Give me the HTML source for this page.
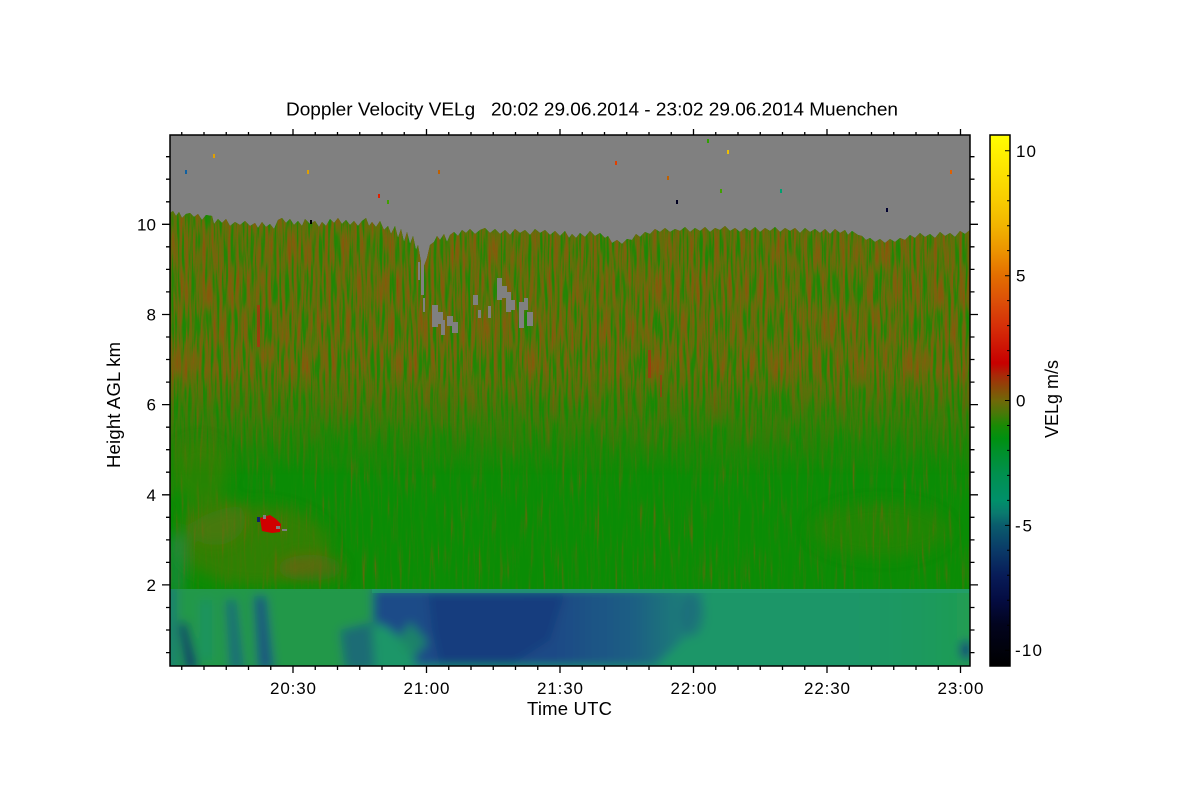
<!DOCTYPE html>
<html><head><meta charset="utf-8"><style>
html,body{margin:0;padding:0;background:#fff;}
svg{display:block;}
text{font-family:"Liberation Sans",Arial,sans-serif;fill:#000;}
</style></head><body>
<svg xmlns="http://www.w3.org/2000/svg" width="1200" height="800" viewBox="0 0 1200 800">
<defs>
<clipPath id="pc"><rect x="170" y="135" width="800" height="531"/></clipPath>
<clipPath id="bc"><rect x="170" y="589" width="800" height="77"/></clipPath>
<linearGradient id="cg" gradientUnits="userSpaceOnUse" x1="0" y1="135" x2="0" y2="666">
<stop offset="0" stop-color="#ffff00"/>
<stop offset="0.030" stop-color="#fff200"/>
<stop offset="0.124" stop-color="#f8cc00"/>
<stop offset="0.171" stop-color="#f2b400"/>
<stop offset="0.218" stop-color="#ec9400"/>
<stop offset="0.265" stop-color="#e46e00"/>
<stop offset="0.312" stop-color="#dc5008"/>
<stop offset="0.359" stop-color="#d63008"/>
<stop offset="0.406" stop-color="#cc1004"/>
<stop offset="0.430" stop-color="#c80000"/>
<stop offset="0.453" stop-color="#a82a08"/>
<stop offset="0.477" stop-color="#8a4a08"/>
<stop offset="0.500" stop-color="#706808"/>
<stop offset="0.523" stop-color="#4a7808"/>
<stop offset="0.547" stop-color="#1a8a04"/>
<stop offset="0.571" stop-color="#009010"/>
<stop offset="0.594" stop-color="#009028"/>
<stop offset="0.641" stop-color="#009050"/>
<stop offset="0.688" stop-color="#00906a"/>
<stop offset="0.712" stop-color="#0a7a6e"/>
<stop offset="0.735" stop-color="#0a5c6c"/>
<stop offset="0.782" stop-color="#0a3a68"/>
<stop offset="0.829" stop-color="#081c58"/>
<stop offset="0.876" stop-color="#040c42"/>
<stop offset="0.923" stop-color="#02041e"/>
<stop offset="1" stop-color="#000000"/>
</linearGradient>
<linearGradient id="baseG" gradientUnits="userSpaceOnUse" x1="0" y1="210" x2="0" y2="590">
<stop offset="0" stop-color="#66700e"/>
<stop offset="0.4" stop-color="#5c760c"/>
<stop offset="0.62" stop-color="#2e860a"/>
<stop offset="1" stop-color="#20880a"/>
</linearGradient>
<linearGradient id="fade" gradientUnits="userSpaceOnUse" x1="0" y1="135" x2="0" y2="666">
<stop offset="0.44" stop-color="#fff"/>
<stop offset="0.64" stop-color="#000"/>
</linearGradient>
<linearGradient id="blueG" gradientUnits="userSpaceOnUse" x1="373" y1="0" x2="705" y2="0">
<stop offset="0" stop-color="#1e4c88"/>
<stop offset="0.55" stop-color="#1c4a86"/>
<stop offset="0.78" stop-color="#1a5e84"/>
<stop offset="1" stop-color="#1a8a72"/>
</linearGradient>
<linearGradient id="rgG" gradientUnits="userSpaceOnUse" x1="820" y1="0" x2="970" y2="0">
<stop offset="0" stop-color="#1c9668" stop-opacity="0"/>
<stop offset="1" stop-color="#22a048" stop-opacity="0.7"/>
</linearGradient>
<mask id="mo" maskUnits="userSpaceOnUse" x="170" y="135" width="800" height="531"><rect x="170" y="135" width="800" height="531" fill="url(#fade)"/></mask>
<filter id="tg" filterUnits="userSpaceOnUse" x="170" y="135" width="800" height="531" color-interpolation-filters="sRGB">
<feTurbulence type="fractalNoise" baseFrequency="0.32 0.022" numOctaves="2" seed="7"/>
<feColorMatrix type="matrix" values="1 0 0 0 0 1 0 0 0 0 1 0 0 0 0 0 0 0 0 1"/>
<feComponentTransfer>
<feFuncR type="table" tableValues="0.04 0.04 0.04 0.05 0.12 0.32 0.45"/>
<feFuncG type="table" tableValues="0.55 0.55 0.55 0.55 0.52 0.44 0.38"/>
<feFuncB type="table" tableValues="0.02 0.02 0.02 0.02 0.03 0.04 0.04"/>
</feComponentTransfer>
<feComposite in2="SourceGraphic" operator="in"/>
</filter>
<filter id="to" filterUnits="userSpaceOnUse" x="170" y="135" width="800" height="531" color-interpolation-filters="sRGB">
<feTurbulence type="fractalNoise" baseFrequency="0.35 0.026" numOctaves="2" seed="41"/>
<feColorMatrix type="matrix" values="1 0 0 0 0 1 0 0 0 0 1 0 0 0 0 0 0 0 0 1"/>
<feComponentTransfer>
<feFuncR type="table" tableValues="0.1 0.1 0.16 0.38 0.49 0.55 0.62"/>
<feFuncG type="table" tableValues="0.54 0.54 0.52 0.44 0.38 0.33 0.24"/>
<feFuncB type="table" tableValues="0.02 0.02 0.02 0.04 0.05 0.04 0.02"/>
</feComponentTransfer>
<feComposite in2="SourceGraphic" operator="in"/>
</filter>
<filter id="bl" x="-20%" y="-20%" width="140%" height="140%"><feGaussianBlur stdDeviation="5"/></filter>
<filter id="bl5" x="-30%" y="-30%" width="160%" height="160%"><feGaussianBlur stdDeviation="7"/></filter>
</defs>

<rect x="0" y="0" width="1200" height="800" fill="#fff"/>

<!-- plot area -->
<g clip-path="url(#pc)">
<rect x="170" y="135" width="800" height="531" fill="#808080"/>
<path id="cloud" d="M170,213 L173,211 L176,216 L179,212 L182,218 L186,214 L190,213 L194,217 L198,214 L202,220 L206,215 L212,216 L214,224 L218,219 L222,223 L226,219 L230,226 L235,222 L240,225 L245,221 L250,226 L255,223 L258,228 L262,222 L266,227 L270,224 L274,229 L278,220 L282,218 L286,223 L290,219 L294,225 L298,221 L302,226 L305,219 L310,224 L315,221 L319,227 L322,222 L326,226 L330,219 L334,223 L338,218 L342,224 L346,220 L350,225 L354,221 L358,226 L362,221 L366,218 L369,226 L372,222 L376,227 L380,221 L384,230 L388,226 L391,234 L395,226 L398,238 L401,229 L404,242 L407,232 L410,244 L413,236 L416,250 L418,245 L421,262 L424,266 L427,258 L430,245 L434,242 L437,236 L440,240 L444,234 L447,242 L450,235 L454,232 L458,236 L462,230 L466,233 L470,229 L475,234 L480,230 L485,228 L490,233 L495,229 L500,234 L505,230 L510,235 L515,229 L520,233 L525,230 L530,235 L535,229 L540,233 L545,230 L550,235 L555,231 L560,236 L565,231 L569,238 L572,234 L576,238 L580,233 L585,237 L590,231 L595,236 L600,233 L605,238 L608,236 L612,243 L617,240 L622,244 L627,239 L632,240 L636,234 L640,237 L645,232 L650,234 L655,229 L660,232 L665,228 L670,232 L675,229 L680,231 L685,227 L690,232 L695,228 L700,231 L705,227 L710,232 L715,228 L720,230 L725,226 L730,231 L735,228 L740,232 L745,228 L750,231 L755,227 L760,232 L765,228 L770,231 L775,227 L780,232 L785,228 L790,231 L795,228 L800,233 L805,228 L810,232 L815,229 L820,233 L825,229 L830,234 L835,229 L840,233 L845,230 L848,235 L852,231 L858,235 L862,236 L866,240 L870,238 L875,242 L880,239 L885,243 L890,239 L895,242 L900,238 L905,240 L910,235 L915,238 L920,233 L925,237 L930,234 L935,238 L940,232 L945,236 L950,233 L955,237 L960,231 L965,234 L970,230 L970,666 L170,666 Z" fill="url(#baseG)"/>
<use href="#cloud" fill="#000" filter="url(#tg)"/>
<g mask="url(#mo)"><use href="#cloud" fill="#000" filter="url(#to)"/></g>

<!-- brownish patches -->
<g filter="url(#bl5)">
<ellipse cx="255" cy="545" rx="75" ry="40" fill="#6a6e0c" opacity="0.4"/>
<ellipse cx="310" cy="568" rx="32" ry="13" fill="#8a5612" opacity="0.5"/>
<ellipse cx="215" cy="520" rx="30" ry="25" fill="#7a6a10" opacity="0.3"/>
<ellipse cx="880" cy="530" rx="70" ry="28" fill="#6a6e0c" opacity="0.22"/>
<ellipse cx="200" cy="470" rx="30" ry="30" fill="#6a700c" opacity="0.3"/>
<rect x="170" y="535" width="12" height="60" fill="#1a8a70" opacity="0.6"/>
</g>

<!-- red streaks -->
<rect x="257" y="305" width="3" height="42" fill="#b82810" opacity="0.7"/>
<rect x="648" y="350" width="3" height="28" fill="#a83010" opacity="0.7"/>
<rect x="660" y="375" width="2" height="22" fill="#a83010" opacity="0.6"/>

<!-- red spot -->
<polygon points="260,518 270,515 276,519 281,524 280,532 272,533 262,531" fill="#d00000"/>
<rect x="257" y="517" width="3" height="5" fill="#10206a"/>
<rect x="263" y="515" width="3" height="4" fill="#808080"/>
<rect x="276" y="526" width="4" height="3" fill="#808080"/>
<rect x="282" y="529" width="5" height="2" fill="#808080"/>

<!-- gray pockets -->
<g fill="#808080">
<rect x="421" y="255" width="3" height="40"/>
<rect x="423" y="298" width="2" height="14"/>
<rect x="418" y="262" width="2" height="18"/>
<rect x="432" y="305" width="6" height="22"/>
<rect x="438" y="312" width="5" height="12"/>
<rect x="441" y="320" width="4" height="15"/>
<rect x="447" y="316" width="6" height="10"/>
<rect x="452" y="322" width="6" height="11"/>
<rect x="473" y="295" width="5" height="10"/>
<rect x="478" y="310" width="3" height="8"/>
<rect x="488" y="306" width="3" height="12"/>
<rect x="497" y="278" width="5" height="22"/>
<rect x="502" y="286" width="5" height="12"/>
<rect x="506" y="292" width="5" height="20"/>
<rect x="511" y="300" width="4" height="10"/>
<rect x="519" y="302" width="5" height="26"/>
<rect x="524" y="298" width="4" height="12"/>
<rect x="527" y="312" width="6" height="14"/>
</g>

<!-- scattered dots -->
<rect x="185" y="170" width="2" height="4" fill="#1060a0"/>
<rect x="213" y="154" width="2" height="4" fill="#e0a000"/>
<rect x="307" y="170" width="2" height="4" fill="#e0a000"/>
<rect x="378" y="194" width="2" height="4" fill="#e02000"/>
<rect x="387" y="200" width="2" height="4" fill="#40a000"/>
<rect x="438" y="170" width="2" height="4" fill="#c06000"/>
<rect x="310" y="220" width="2" height="4" fill="#000"/>
<rect x="615" y="161" width="2" height="4" fill="#e04000"/>
<rect x="667" y="176" width="2" height="4" fill="#c06000"/>
<rect x="676" y="200" width="2" height="4" fill="#000020"/>
<rect x="707" y="139" width="2" height="4" fill="#30a000"/>
<rect x="727" y="150" width="2" height="4" fill="#f0c000"/>
<rect x="720" y="189" width="2" height="4" fill="#40a000"/>
<rect x="780" y="189" width="2" height="4" fill="#00a070"/>
<rect x="886" y="208" width="2" height="4" fill="#000030"/>
<rect x="950" y="170" width="2" height="4" fill="#e06000"/>
</g>

<!-- bottom layer -->
<g clip-path="url(#bc)"><g filter="url(#bl)">
<rect x="150" y="580" width="840" height="100" fill="#1c9668"/>
<rect x="150" y="580" width="224" height="100" fill="#21984a"/>
<polygon points="373,589 705,589 702,612 688,635 655,666 416,666 408,645 388,628 373,622" fill="url(#blueG)"/>
<polygon points="428,594 565,594 550,640 510,666 440,666 432,630" fill="#16397a" opacity="0.7"/>
<polygon points="396,642 410,622 428,642 412,660" fill="#1a9062" opacity="0.8"/>
<ellipse cx="692" cy="615" rx="12" ry="22" fill="#1a6080" opacity="0.5"/>
<rect x="820" y="585" width="160" height="90" fill="url(#rgG)"/>
<ellipse cx="966" cy="650" rx="6" ry="10" fill="#123a7a"/>
<polygon points="179,624 186,622 198,670 186,670" fill="#0c2a6c"/>
<polygon points="226,600 236,600 244,670 230,670" fill="#1c5a8a" opacity="0.7"/>
<polygon points="254,596 266,596 274,670 258,670" fill="#1a4a88" opacity="0.85"/>
<polygon points="340,630 372,622 375,670 345,670" fill="#1a5a88" opacity="0.7"/>
<rect x="165" y="585" width="12" height="90" fill="#1a8070"/>
<rect x="200" y="600" width="12" height="60" fill="#1a9070" opacity="0.6"/>
</g></g>
<rect x="372" y="589" width="598" height="4" fill="#22a070" opacity="0.7"/>

<!-- frame -->
<rect x="170" y="135" width="800" height="531" fill="none" stroke="#000" stroke-width="1.5"/>

<!-- ticks -->
<path stroke="#000" stroke-width="1.3" fill="none" d="
M181.75,666V670 M204,666V670 M226.25,666V670 M248.5,666V670 M270.75,666V670 M293,666V673 M315.25,666V670 M337.5,666V670 M359.75,666V670 M382,666V670 M404.25,666V670 M426.5,666V673 M448.75,666V670 M471,666V670 M493.25,666V670 M515.5,666V670 M537.75,666V670 M560,666V673 M582.25,666V670 M604.5,666V670 M626.75,666V670 M649,666V670 M671.25,666V670 M693.5,666V673 M715.75,666V670 M738,666V670 M760.25,666V670 M782.5,666V670 M804.75,666V670 M827,666V673 M849.25,666V670 M871.5,666V670 M893.75,666V670 M916,666V670 M938.25,666V670 M960.5,666V673
M181.75,135V132 M204,135V132 M226.25,135V132 M248.5,135V132 M270.75,135V132 M293,135V129 M315.25,135V132 M337.5,135V132 M359.75,135V132 M382,135V132 M404.25,135V132 M426.5,135V129 M448.75,135V132 M471,135V132 M493.25,135V132 M515.5,135V132 M537.75,135V132 M560,135V129 M582.25,135V132 M604.5,135V132 M626.75,135V132 M649,135V132 M671.25,135V132 M693.5,135V129 M715.75,135V132 M738,135V132 M760.25,135V132 M782.5,135V132 M804.75,135V132 M827,135V129 M849.25,135V132 M871.5,135V132 M893.75,135V132 M916,135V132 M938.25,135V132 M960.5,135V129
M170,652.6H166 M170,630H166 M170,607.5H166 M170,584.9H162 M170,562.4H166 M170,539.9H166 M170,517.3H166 M170,494.8H162 M170,472.2H166 M170,449.7H166 M170,427.2H166 M170,404.6H162 M170,382.1H166 M170,359.5H166 M170,337H166 M170,314.5H162 M170,291.9H166 M170,269.4H166 M170,246.8H166 M170,224.3H162 M170,201.8H166 M170,179.2H166 M170,156.7H166
M970,652.6H974.5 M970,630H974.5 M970,607.5H974.5 M970,584.9H978 M970,562.4H974.5 M970,539.9H974.5 M970,517.3H974.5 M970,494.8H978 M970,472.2H974.5 M970,449.7H974.5 M970,427.2H974.5 M970,404.6H978 M970,382.1H974.5 M970,359.5H974.5 M970,337H974.5 M970,314.5H978 M970,291.9H974.5 M970,269.4H974.5 M970,246.8H974.5 M970,224.3H978 M970,201.8H974.5 M970,179.2H974.5 M970,156.7H974.5
"/>

<!-- title -->
<text x="286" y="115.5" font-size="18.5" textLength="612" lengthAdjust="spacingAndGlyphs" style="white-space:pre">Doppler Velocity VELg   20:02 29.06.2014 - 23:02 29.06.2014 Muenchen</text>

<!-- x labels -->
<g font-size="17" text-anchor="middle">
<text x="293" y="694" textLength="46">20:30</text>
<text x="426.5" y="694" textLength="46">21:00</text>
<text x="560" y="694" textLength="46">21:30</text>
<text x="693.5" y="694" textLength="46">22:00</text>
<text x="827" y="694" textLength="46">22:30</text>
<text x="960.5" y="694" textLength="46">23:00</text>
</g>
<text x="569.5" y="715" font-size="18.5" text-anchor="middle" textLength="85">Time UTC</text>

<!-- y labels -->
<g font-size="17" text-anchor="end">
<text x="156" y="590.9">2</text>
<text x="156" y="500.8">4</text>
<text x="156" y="410.6">6</text>
<text x="156" y="320.5">8</text>
<text x="156" y="230.3" textLength="19">10</text>
</g>
<text transform="translate(120,405) rotate(-90)" font-size="18.5" text-anchor="middle" textLength="126">Height AGL km</text>

<!-- colorbar -->
<rect x="990" y="135" width="20" height="531" fill="url(#cg)"/>
<path stroke="#000" stroke-width="1" fill="none" d="
M1010,150.8H1005 M1010,175.8H1007 M1010,200.7H1007 M1010,225.7H1007 M1010,250.6H1007 M1010,275.7H1005 M1010,300.6H1007 M1010,325.6H1007 M1010,350.6H1007 M1010,375.5H1007 M1010,400.5H1005 M1010,425.5H1007 M1010,450.4H1007 M1010,475.4H1007 M1010,500.4H1007 M1010,525.4H1005 M1010,550.3H1007 M1010,575.3H1007 M1010,600.3H1007 M1010,625.2H1007 M1010,650.2H1005"/>
<rect x="990" y="135" width="20" height="531" fill="none" stroke="#000" stroke-width="1.5"/>
<g font-size="17">
<text x="1016" y="156.8" textLength="20">10</text>
<text x="1016" y="281.7">5</text>
<text x="1016" y="406.5">0</text>
<text x="1015" y="531.4" textLength="17">-5</text>
<text x="1015" y="656.2" textLength="27">-10</text>
</g>
<text transform="translate(1058,399) rotate(-90)" font-size="18" text-anchor="middle" textLength="78">VELg m/s</text>
</svg>
</body></html>
